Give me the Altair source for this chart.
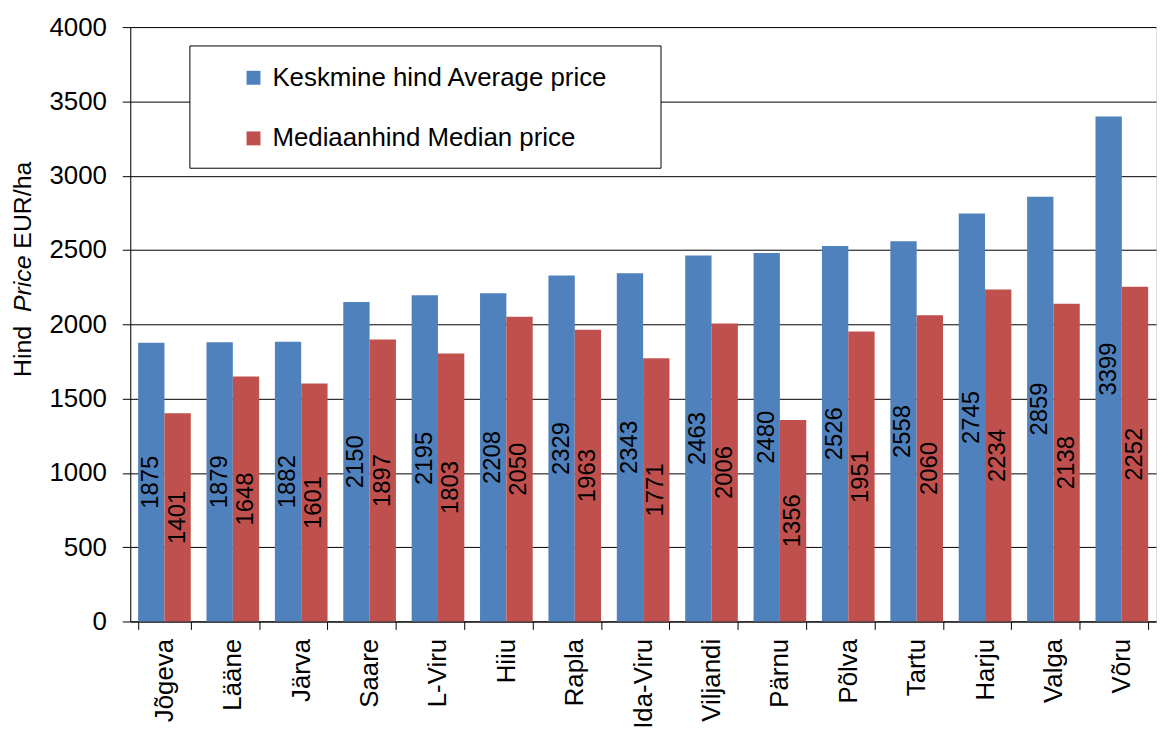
import altair as alt
import pandas as pd

regions = ["Jõgeva", "Lääne", "Järva", "Saare", "L-Viru", "Hiiu", "Rapla", "Ida-Viru",
           "Viljandi", "Pärnu", "Põlva", "Tartu", "Harju", "Valga", "Võru"]
average = [1875, 1879, 1882, 2150, 2195, 2208, 2329, 2343, 2463, 2480, 2526, 2558, 2745, 2859, 3399]
median = [1401, 1648, 1601, 1897, 1803, 2050, 1963, 1771, 2006, 1356, 1951, 2060, 2234, 2138, 2252]
series = ["Keskmine hind Average price", "Mediaanhind Median price"]
colors = ["#4F81BD", "#C0504D"]
y_ticks = [0, 500, 1000, 1500, 2000, 2500, 3000, 3500, 4000]

rows = []
for r, a, m in zip(regions, average, median):
    rows.append({"region": r, "series": series[0], "value": a})
    rows.append({"region": r, "series": series[1], "value": m})
df = pd.DataFrame(rows)

W, H = 1032, 598
FONT = "Liberation Sans"

x_enc = alt.X("region:N", sort=regions,
              scale=alt.Scale(paddingInner=0.23, paddingOuter=0.115),
              axis=alt.Axis(title=None, labelAngle=270, labelFontSize=26, labelFont=FONT,
                            labelColor="black", domainColor="black", tickColor="black",
                            tickSize=8, tickBand="extent", labelPadding=9))
y_enc = alt.Y("value:Q", scale=alt.Scale(domain=[0, 4000], nice=False),
              axis=alt.Axis(title=None, values=y_ticks, format="d", labelFontSize=26,
                            labelFont=FONT, labelColor="black", domainColor="black",
                            tickColor="black", tickSize=8, labelPadding=16, grid=True,
                            gridColor="black", gridOpacity=1, gridWidth=1))

base = alt.Chart(df)

bars = base.mark_bar().encode(
    x=x_enc,
    xOffset=alt.XOffset("series:N", sort=series),
    y=y_enc,
    color=alt.Color("series:N", sort=series,
                    scale=alt.Scale(domain=series, range=colors),
                    legend=alt.Legend(title=None, orient="none", legendX=111, legendY=38,
                                      symbolType="square", symbolSize=196, symbolStrokeWidth=0,
                                      labelFontSize=26, labelFont=FONT, labelColor="black",
                                      labelOffset=6, rowPadding=35, padding=0,
                                      labelLimit=600)),
)

labels = base.transform_calculate(half="datum.value / 2").mark_text(
    angle=270, fontSize=24, font=FONT, color="black", align="center", baseline="middle"
).encode(
    x=alt.X("region:N", sort=regions),
    xOffset=alt.XOffset("series:N", sort=series),
    y=alt.Y("half:Q"),
    text=alt.Text("value:Q"),
)

one = alt.Data(values=[{"a": 1}])
box = alt.Chart(one).mark_rect(fill="white", stroke="black", strokeWidth=1).encode(
    x=alt.value(60), x2=alt.value(534), y=alt.value(19), y2=alt.value(142)
)

t_hind = alt.Chart(one).mark_text(text="Hind", angle=270, align="left", baseline="middle",
                                  fontSize=25, font=FONT, color="black").encode(
    x=alt.value(-108), y=alt.value(352))
t_price = alt.Chart(one).mark_text(text="Price", angle=270, align="left", baseline="middle",
                                   fontSize=25, font=FONT, fontStyle="italic", color="black").encode(
    x=alt.value(-108), y=alt.value(286.7))
t_eur = alt.Chart(one).mark_text(text="EUR/ha", angle=270, align="left", baseline="middle",
                                 fontSize=25, font=FONT, color="black").encode(
    x=alt.value(-108), y=alt.value(222.9))

chart = alt.layer(bars, labels, box, t_hind, t_price, t_eur).properties(
    width=W, height=H,
    autosize=alt.AutoSizeParams(type="none"),
    padding={"left": 123, "top": 17, "right": 2, "bottom": 107},
).configure_view(stroke="black", strokeWidth=1).configure(font=FONT)

chart.save("out.html", embed_options={"renderer": "svg", "actions": False})
